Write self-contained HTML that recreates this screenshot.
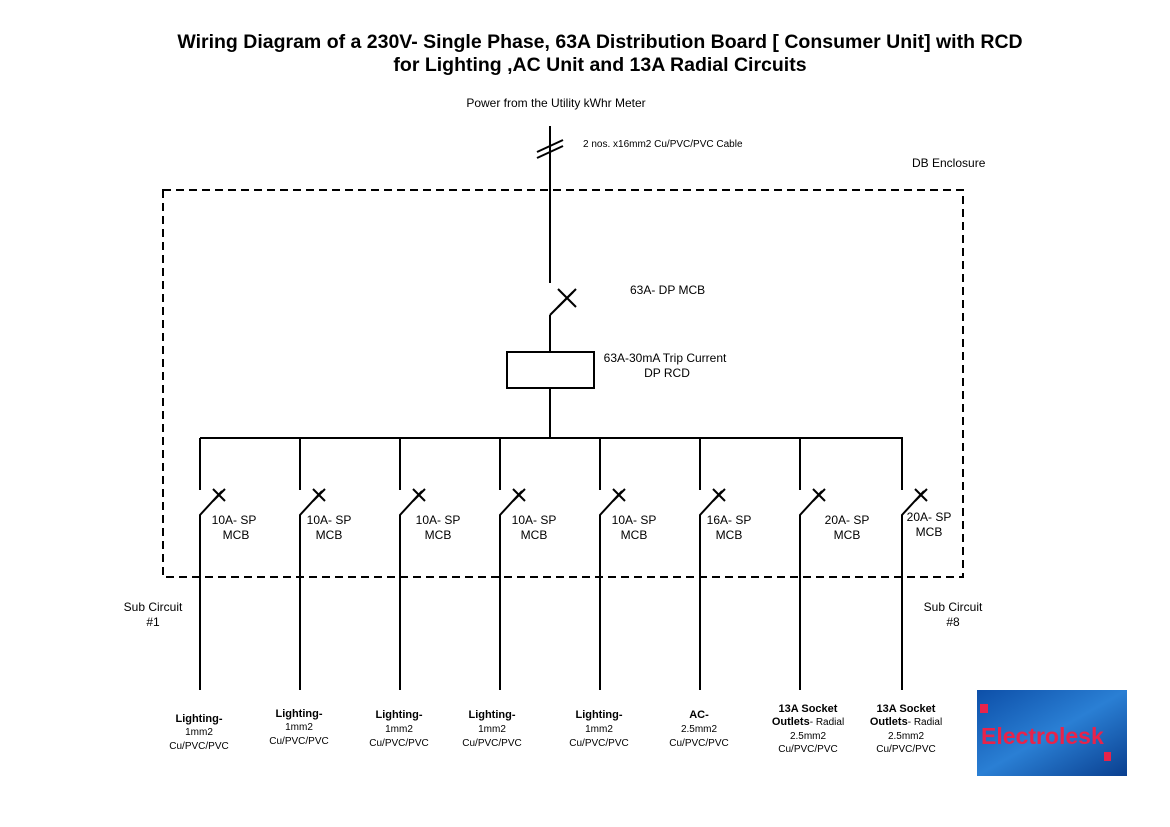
<!DOCTYPE html>
<html><head><meta charset="utf-8"><style>
html,body{margin:0;padding:0;background:#fff;}
svg{display:block;font-family:"Liberation Sans",Arial,sans-serif;}
</style></head><body>
<svg width="1170" height="827" viewBox="0 0 1170 827" xmlns="http://www.w3.org/2000/svg">
<defs>
<linearGradient id="lg" x1="0" y1="0" x2="1" y2="1">
<stop offset="0" stop-color="#0d4fa8"/><stop offset="0.5" stop-color="#2a7fd4"/><stop offset="1" stop-color="#0a3f8f"/>
</linearGradient>
</defs>
<g font-weight="bold" font-size="19.5" text-anchor="middle" fill="#000">
<text x="600" y="48">Wiring Diagram of a 230V- Single Phase, 63A Distribution Board [ Consumer Unit] with RCD</text>
<text x="600" y="71">for Lighting ,AC Unit and 13A Radial Circuits</text>
</g>
<g font-size="12" fill="#000">
<text x="556" y="107" text-anchor="middle">Power from the Utility kWhr Meter</text>
<text x="583" y="147" font-size="10">2 nos. x16mm2 Cu/PVC/PVC Cable</text>
<text x="912" y="167">DB Enclosure</text>
<text x="630" y="294">63A- DP MCB</text>
<text x="665" y="362" text-anchor="middle">63A-30mA Trip Current</text>
<text x="667" y="377" text-anchor="middle">DP RCD</text>
<text x="153" y="611" text-anchor="middle">Sub Circuit</text>
<text x="153" y="626" text-anchor="middle">#1</text>
<text x="953" y="611" text-anchor="middle">Sub Circuit</text>
<text x="953" y="626" text-anchor="middle">#8</text>
</g>
<rect x="163" y="190" width="800" height="387" fill="none" stroke="#000" stroke-width="2" stroke-dasharray="8,5"/>
<g stroke="#000" stroke-width="2" fill="none">
<line x1="550" y1="126" x2="550" y2="283"/>
<line x1="537" y1="152" x2="563" y2="140"/>
<line x1="537" y1="158" x2="563" y2="146"/>
<line x1="550" y1="315" x2="550" y2="352"/>
<line x1="550" y1="315" x2="573" y2="292"/>
<line x1="558" y1="289" x2="576" y2="307"/>
<line x1="576" y1="289" x2="558" y2="307"/>
<rect x="507" y="352" width="87" height="36"/>
<line x1="550" y1="388" x2="550" y2="438"/>
<line x1="200" y1="438" x2="903" y2="438"/>
</g>
<g stroke="#000" stroke-width="2" fill="none">
<path d="M200 438V490M200 690V515L222 491M213 489L225 501M225 489L213 501"/>
<path d="M300 438V490M300 690V515L322 491M313 489L325 501M325 489L313 501"/>
<path d="M400 438V490M400 690V515L422 491M413 489L425 501M425 489L413 501"/>
<path d="M500 438V490M500 690V515L522 491M513 489L525 501M525 489L513 501"/>
<path d="M600 438V490M600 690V515L622 491M613 489L625 501M625 489L613 501"/>
<path d="M700 438V490M700 690V515L722 491M713 489L725 501M725 489L713 501"/>
<path d="M800 438V490M800 690V515L822 491M813 489L825 501M825 489L813 501"/>
<path d="M902 438V490M902 690V515L924 491M915 489L927 501M927 489L915 501"/>
</g>
<g font-size="12" text-anchor="middle" fill="#000">
<text x="234" y="524">10A- SP</text><text x="236" y="539">MCB</text>
<text x="329" y="524">10A- SP</text><text x="329" y="539">MCB</text>
<text x="438" y="524">10A- SP</text><text x="438" y="539">MCB</text>
<text x="534" y="524">10A- SP</text><text x="534" y="539">MCB</text>
<text x="634" y="524">10A- SP</text><text x="634" y="539">MCB</text>
<text x="729" y="524">16A- SP</text><text x="729" y="539">MCB</text>
<text x="847" y="524">20A- SP</text><text x="847" y="539">MCB</text>
<text x="929" y="521">20A- SP</text><text x="929" y="536">MCB</text>
</g>
<g font-size="10" text-anchor="middle" fill="#000">
<text x="199" y="722" font-weight="bold" font-size="11">Lighting-</text><text x="199" y="735">1mm2</text><text x="199" y="749">Cu/PVC/PVC</text>
<text x="299" y="717" font-weight="bold" font-size="11">Lighting-</text><text x="299" y="730">1mm2</text><text x="299" y="744">Cu/PVC/PVC</text>
<text x="399" y="718" font-weight="bold" font-size="11">Lighting-</text><text x="399" y="732">1mm2</text><text x="399" y="746">Cu/PVC/PVC</text>
<text x="492" y="718" font-weight="bold" font-size="11">Lighting-</text><text x="492" y="732">1mm2</text><text x="492" y="746">Cu/PVC/PVC</text>
<text x="599" y="718" font-weight="bold" font-size="11">Lighting-</text><text x="599" y="732">1mm2</text><text x="599" y="746">Cu/PVC/PVC</text>
<text x="699" y="718" font-weight="bold" font-size="11">AC-</text><text x="699" y="732">2.5mm2</text><text x="699" y="746">Cu/PVC/PVC</text>
<text x="808" y="712" font-weight="bold" font-size="11">13A Socket</text><text x="808" y="725"><tspan font-weight="bold" font-size="11">Outlets</tspan>- Radial</text><text x="808" y="739">2.5mm2</text><text x="808" y="752">Cu/PVC/PVC</text>
<text x="906" y="712" font-weight="bold" font-size="11">13A Socket</text><text x="906" y="725"><tspan font-weight="bold" font-size="11">Outlets</tspan>- Radial</text><text x="906" y="739">2.5mm2</text><text x="906" y="752">Cu/PVC/PVC</text>
</g>
<rect x="977" y="690" width="150" height="86" fill="url(#lg)"/>
<rect x="980" y="704" width="8" height="9" fill="#e8234a"/>
<rect x="1104" y="752" width="7" height="9" fill="#e8234a"/>
<text x="981" y="744" font-size="23" font-weight="bold" fill="#e8234a">Electrolesk</text>
</svg>
</body></html>
